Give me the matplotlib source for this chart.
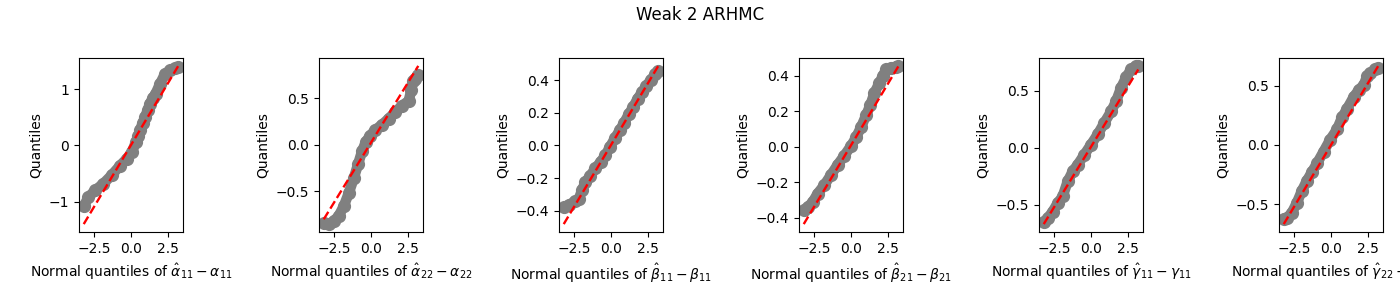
import matplotlib
matplotlib.use("Agg")
from matplotlib import pyplot as plt
import numpy as np

# theoretical normal quantiles (x) and sample quantiles (y)
x_a11 = [-3.2, -2.88, -2.43, -1.87, -1.31, -0.74, -0.29, 0.05, 0.34, 0.47, 0.61, 0.78, 0.95,
         1.12, 1.28, 1.47, 1.67, 1.96, 2.30, 2.64, 2.97, 3.2]
y_a11 = [-1.08, -0.92, -0.80, -0.68, -0.53, -0.36, -0.24, -0.12, 0.06, 0.16, 0.27, 0.39, 0.50,
         0.62, 0.74, 0.84, 0.92, 1.09, 1.27, 1.33, 1.37, 1.39]

x_a22 = [-3.2, -2.86, -2.52, -2.18, -1.85, -1.51, -1.17, -0.88, -0.61, -0.34, -0.05, 0.29,
         0.74, 1.19, 1.64, 2.09, 2.55, 2.73, 2.82, 3.0, 3.2]
y_a22 = [-0.84, -0.85, -0.82, -0.76, -0.66, -0.52, -0.36, -0.21, -0.07, 0.035, 0.10, 0.16,
         0.215, 0.28, 0.35, 0.42, 0.47, 0.59, 0.68, 0.71, 0.75]

x_b11 = [-3.2, -2.86, -2.45, -2.18, -1.95, -1.73, -1.40, -1.06, -0.70, -0.38, -0.09, 0.27,
         0.61, 0.90, 1.20, 1.50, 1.80, 2.10, 2.40, 2.70, 3.0, 3.2]
y_b11 = [-0.378, -0.363, -0.342, -0.327, -0.27, -0.224, -0.185, -0.14, -0.10, -0.061, -0.012, 0.045,
         0.095, 0.14, 0.19, 0.235, 0.285, 0.325, 0.365, 0.40, 0.435, 0.455]

x_b21 = [-3.2, -2.94, -2.6, -2.26, -1.81, -1.36, -0.90, -0.45, 0.0, 0.34, 0.68, 1.02, 1.31,
         1.58, 1.92, 2.15, 2.38, 2.71, 3.05, 3.2]
y_b21 = [-0.358, -0.342, -0.313, -0.265, -0.217, -0.160, -0.102, -0.05, 0.004, 0.052, 0.11, 0.177, 0.235,
         0.302, 0.36, 0.398, 0.437, 0.446, 0.45, 0.456]

x_g11 = [-3.2, -2.94, -2.6, -2.26, -1.92, -1.58, -1.24, -0.9, -0.45, 0.0, 0.45, 0.9, 1.36,
         1.7, 2.04, 2.38, 2.71, 3.05, 3.2]
y_g11 = [-0.647, -0.618, -0.56, -0.485, -0.426, -0.294, -0.206, -0.147, -0.059, 0.029, 0.118, 0.22, 0.32,
         0.41, 0.53, 0.62, 0.69, 0.72, 0.72]

x_g22 = [-3.2, -2.99, -2.65, -2.31, -1.97, -1.63, -1.29, -0.95, -0.5, -0.05, 0.41, 0.75, 1.09,
         1.54, 1.88, 2.22, 2.44, 2.67, 3.01, 3.2]
y_g22 = [-0.62, -0.615, -0.57, -0.486, -0.385, -0.30, -0.227, -0.155, -0.055, 0.046, 0.132, 0.233, 0.305,
         0.405, 0.463, 0.506, 0.578, 0.606, 0.64, 0.65]

# reference line (slope, intercept) per panel
line_slope = [0.439, 0.257, 0.151, 0.139, 0.212, 0.208]
line_icpt = [0.006, 0.024, 0.003, 0.008, 0.01, 0.0]

xs = [x_a11, x_a22, x_b11, x_b21, x_g11, x_g22]
ys = [y_a11, y_a22, y_b11, y_b21, y_g11, y_g22]
names = [r"\hat{\alpha}_{11} - \alpha_{11}", r"\hat{\alpha}_{22} - \alpha_{22}",
         r"\hat{\beta}_{11} - \beta_{11}", r"\hat{\beta}_{21} - \beta_{21}",
         r"\hat{\gamma}_{11} - \gamma_{11}", r"\hat{\gamma}_{22} - \gamma_{22}"]

fig = plt.figure(figsize=(14, 3), dpi=100)

for i in range(6):
    ax = fig.add_axes([(79 + 240 * i) / 1400, 68 / 300, 104 / 1400, 174 / 300])
    x = np.array(xs[i])
    y = np.array(ys[i])
    # band of points
    ax.plot(x, y, "o-", color="gray", ms=8.5, lw=7.5, solid_capstyle="round",
            solid_joinstyle="round")
    xl = np.array([x.min(), x.max()])
    ax.plot(xl, line_slope[i] * xl + line_icpt[i], "r--", lw=1.7)
    ax.set_xlabel("Normal quantiles of $" + names[i] + "$")
    ax.set_ylabel("Quantiles")
    if i == 5:
        ax.set_yticks([-0.5, 0.0, 0.5])

fig.suptitle("Weak 2 ARHMC")

plt.savefig("out.png", dpi=100)
